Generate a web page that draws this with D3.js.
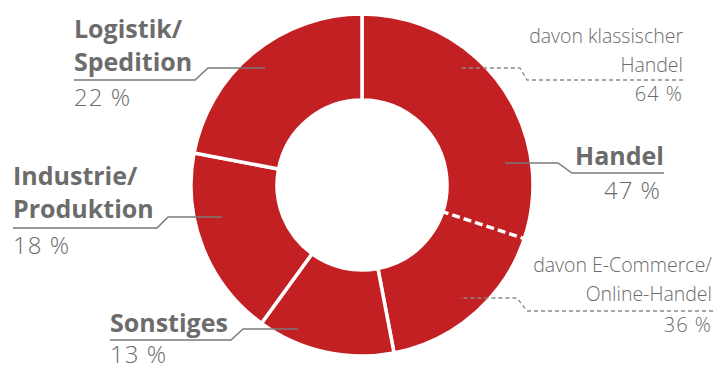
<!DOCTYPE html>
<html>
    <head>
        <meta charset="utf-8">
        <script src="https://d3js.org/d3.v7.min.js"></script>
        <style>
            body { margin: 0; background: #fff; }
            text { font-family: "Open Sans", "Noto Sans", sans-serif; fill: #6c6c6c; }
            .bold { font-weight: 700; }
            .light { font-weight: 300; }
        </style>
    </head>
    <body>
        <div id="my_dataviz"></div>
        <script>
            // shares of the sectors, clockwise from 12 o'clock
            const categories = ["Handel", "Sonstiges", "Industrie/Produktion", "Logistik/Spedition"];
            const shares = [47, 13, 18, 22];

            // split of the Handel slice
            const subCategories = ["davon klassischer Handel", "davon E-Commerce/Online-Handel"];
            const subShares = [64, 36];

            const width = 715, height = 369;
            const cx = 362, cy = 185;
            const outerR = 171, innerR = 85;
            const red = "#c32024";

            const svg = d3.select("#my_dataviz")
              .append("svg")
                .attr("width", width)
                .attr("height", height);

            const g = svg.append("g")
                .attr("transform", `translate(${cx},${cy})`);

            const pie = d3.pie().sort(null).value(d => d);
            const arcs = pie(shares);

            const arc = d3.arc()
                .innerRadius(innerR)
                .outerRadius(outerR);

            g.selectAll("path.slice")
              .data(arcs)
              .join("path")
                .attr("class", "slice")
                .attr("d", arc)
                .attr("fill", red)
                .attr("stroke", "#fff")
                .attr("stroke-width", 3.5)
                .attr("stroke-linejoin", "miter");

            // dashed split inside Handel
            const h = arcs[0];
            const splitAngle = h.startAngle + (h.endAngle - h.startAngle) * subShares[0] / 100;
            const radial = d3.scaleLinear().domain([0, 1]).range([innerR - 2, outerR + 2]);
            g.append("line")
                .attr("x1", radial(0) * Math.sin(splitAngle))
                .attr("y1", -radial(0) * Math.cos(splitAngle))
                .attr("x2", radial(1) * Math.sin(splitAngle))
                .attr("y2", -radial(1) * Math.cos(splitAngle))
                .attr("stroke", "#fff")
                .attr("stroke-width", 3.5)
                .attr("stroke-dasharray", "8,4");

            // label layout
            const labels = [
                {lines: ["Logistik/", "Spedition"], pct: shares[3], x: 74, y: 38, anchor: "start",
                 path: [[74, 80], [195, 80], [208, 68], [265, 68]]},
                {lines: ["Industrie/", "Produktion"], pct: shares[2], x: 13, y: 185, anchor: "start",
                 path: [[13, 228], [157, 228], [168, 217], [222, 217]]},
                {lines: ["Sonstiges"], pct: shares[1], x: 110, y: 332, anchor: "start",
                 path: [[110, 340], [231, 340], [243, 329], [298, 329]]},
                {lines: ["Handel"], pct: shares[0], x: 664, y: 165, anchor: "end",
                 path: [[664, 173], [572, 173], [558, 163], [505, 163]]}
            ];

            const subLabels = [
                {lines: ["davon klassischer", "Handel"], pct: subShares[0], x: 683, y: 43,
                 path: [[683, 80], [527, 80], [520, 68], [460, 68]]},
                {lines: ["davon E-Commerce/", "Online-Handel"], pct: subShares[1], x: 712, y: 272,
                 path: [[713, 311], [527, 311], [517, 298], [460, 298]]}
            ];

            const line = d3.line();

            labels.forEach(l => {
                svg.append("path")
                    .attr("d", line(l.path))
                    .attr("fill", "none")
                    .attr("stroke", "#7a7a7a")
                    .attr("stroke-width", 1.5);
                l.lines.forEach((t, i) => {
                    svg.append("text")
                        .attr("class", "bold")
                        .attr("x", l.x)
                        .attr("y", l.y + i * 33)
                        .attr("text-anchor", l.anchor)
                        .attr("font-size", 25)
                        .text(t);
                });
                svg.append("text")
                    .attr("class", "light")
                    .attr("x", l.anchor === "end" ? l.x - 3 : l.x)
                    .attr("y", Math.min(l.path[0][1] + 26, 363))
                    .attr("text-anchor", l.anchor)
                    .attr("font-size", 24)
                    .attr("letter-spacing", 1)
                    .text(l.pct + " %");
            });

            subLabels.forEach(l => {
                svg.append("path")
                    .attr("d", line(l.path))
                    .attr("fill", "none")
                    .attr("stroke", "#8a8a8a")
                    .attr("stroke-width", 1.3)
                    .attr("stroke-dasharray", "4,3");
                l.lines.forEach((t, i) => {
                    svg.append("text")
                        .attr("class", "light")
                        .attr("x", l.x)
                        .attr("y", l.y + i * 29)
                        .attr("text-anchor", "end")
                        .attr("font-size", 19.5)
                        .text(t);
                });
                svg.append("text")
                    .attr("class", "light")
                    .attr("x", l.x)
                    .attr("y", l.path[0][1] + 21)
                    .attr("text-anchor", "end")
                    .attr("font-size", 20)
                    .attr("letter-spacing", 1)
                    .text(l.pct + " %");
            });
        </script>
    </body>
</html>
